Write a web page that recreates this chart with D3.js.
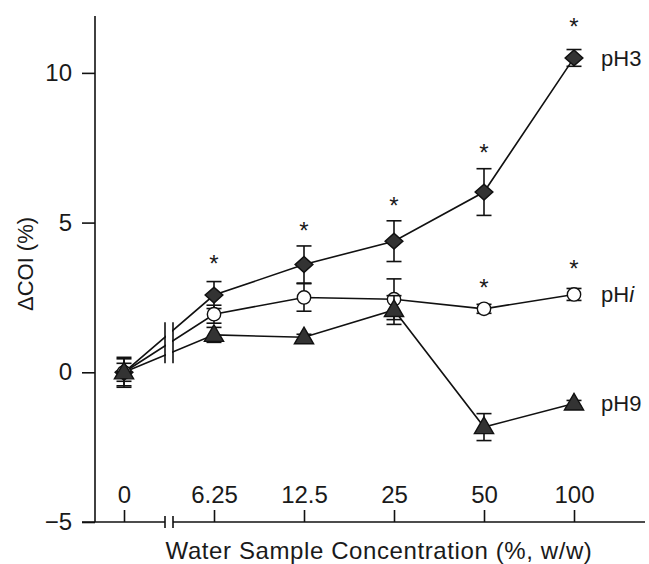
<!DOCTYPE html>
<html>
<head>
<meta charset="utf-8">
<script src="https://cdn.jsdelivr.net/npm/d3@7"></script>
<style>
  body { margin: 0; background: #fff; }
  svg text { font-family: "Liberation Sans", Arial, sans-serif; fill: #1a1a1a; }
</style>
</head>
<body>
<div id="chart"></div>
<script>
'use strict';

// concentrations (% w/w), shown as equally spaced categories
const concentrations = ['0', '6.25', '12.5', '25', '50', '100']
const yTicks = [-5, 0, 5, 10]

// mean ΔCOI (%) and error for each series
const pH3Values = [0, 2.58, 3.6, 4.38, 6.02, 10.5]
const pH3Errors = [0.45, 0.45, 0.62, 0.68, 0.78, 0.28]
const pHiValues = [0, 1.94, 2.5, 2.44, 2.12, 2.6]
const pHiErrors = [0.3, 0.3, 0.46, 0.68, 0.15, 0.2]
const pH9Values = [0, 1.25, 1.17, 2.08, -1.83, -1.04]
const pH9Errors = [0.5, 0.25, 0.1, 0.48, 0.45, 0.1]

// significance asterisks (index of concentration, level in ΔCOI units)
const pH3Stars = [[1, 3.81], [2, 4.92], [3, 5.75], [4, 7.53], [5, 11.74]]
const pHiStars = [[4, 3.01], [5, 3.65]]

const W = 649, H = 564
const margin = {top: 16, left: 95, bottom: 42}
const axisY = H - margin.bottom
const dark = '#333'
const ink  = '#111'
const tickFont = 24

const svg = d3.select('#chart').append('svg')
  .attr('width', W)
  .attr('height', H)

const x = d3.scalePoint()
  .domain(concentrations)
  .range([124, 574])

const y = d3.scaleLinear()
  .domain([-5, 11.9])
  .range([axisY, margin.top])

// ---- y axis
const yAxis = svg.append('g')
  .attr('transform', `translate(${margin.left},0)`)
  .call(d3.axisLeft(y).tickValues(yTicks).tickSize(13).tickPadding(10)
    .tickFormat((d) => d < 0 ? '\u2212' + Math.abs(d) : d))
yAxis.select('.domain').remove()
yAxis.append('line')
  .attr('x1', 0).attr('x2', 0)
  .attr('y1', margin.top).attr('y2', axisY)
  .attr('stroke', ink).attr('stroke-width', 1.6)
yAxis.selectAll('.tick line').attr('stroke', ink).attr('stroke-width', 1.6)
yAxis.selectAll('.tick text')
  .attr('font-size', tickFont)
  .style('font-family', '"Liberation Sans", Arial, sans-serif')
  .attr('fill', '#1a1a1a')

// ---- x axis (inner ticks, with a break after 0)
const breakX = [165, 173]
const xAxis = svg.append('g')
  .attr('transform', `translate(0,${axisY})`)
  .call(d3.axisTop(x).tickSize(12).tickPadding(7))
xAxis.select('.domain').remove()
xAxis.selectAll('.tick line').attr('stroke', ink).attr('stroke-width', 1.6)
xAxis.selectAll('.tick text')
  .attr('font-size', tickFont)
  .style('font-family', '"Liberation Sans", Arial, sans-serif')
  .attr('fill', '#1a1a1a')

const axisSegments = [[margin.left - 13, breakX[0]], [breakX[1], 645]]
xAxis.selectAll('line.seg')
  .data(axisSegments)
  .enter()
  .append('line')
    .attr('class', 'seg')
    .attr('x1', (d) => d[0]).attr('x2', (d) => d[1])
    .attr('y1', 0).attr('y2', 0)
    .attr('stroke', ink).attr('stroke-width', 1.6)
xAxis.selectAll('line.brk')
  .data(breakX)
  .enter()
  .append('line')
    .attr('class', 'brk')
    .attr('x1', (d) => d).attr('x2', (d) => d)
    .attr('y1', -6).attr('y2', 6)
    .attr('stroke', ink).attr('stroke-width', 1.6)

// ---- axis titles
svg.append('text')
  .attr('x', 379)
  .attr('y', 559)
  .attr('text-anchor', 'middle')
  .attr('font-size', tickFont)
  .attr('letter-spacing', 0.6)
  .text('Water Sample Concentration (%, w/w)')

svg.append('text')
  .attr('transform', 'translate(33,264) rotate(-90)')
  .attr('text-anchor', 'middle')
  .attr('font-size', 22)
  .text('\u0394COI (%)')

// ---- series
const series = [
  {name: 'pH3', values: pH3Values, errors: pH3Errors, shape: 'diamond'},
  {name: 'pHi', values: pHiValues, errors: pHiErrors, shape: 'circle'},
  {name: 'pH9', values: pH9Values, errors: pH9Errors, shape: 'triangle'}
]
series.forEach((s) => {
  s.points = s.values.map((v, i) => ({c: concentrations[i], v: v, e: s.errors[i]}))
})

const line = d3.line().x((d) => x(d.c)).y((d) => y(d.v))
const plot = svg.append('g')

plot.selectAll('path.series')
  .data(series)
  .enter()
  .append('path')
    .attr('class', 'series')
    .attr('d', (s) => line(s.points))
    .attr('fill', 'none')
    .attr('stroke', ink)
    .attr('stroke-width', 1.6)

// gap in the lines at the axis break
plot.append('rect')
  .attr('x', breakX[0] + 1)
  .attr('y', y(2.1))
  .attr('width', breakX[1] - breakX[0] - 2)
  .attr('height', y(0.5) - y(2.1))
  .attr('fill', '#fff')
plot.selectAll('line.brk')
  .data(breakX)
  .enter()
  .append('line')
    .attr('class', 'brk')
    .attr('x1', (d) => d).attr('x2', (d) => d)
    .attr('y1', y(1.67)).attr('y2', y(0.3))
    .attr('stroke', ink).attr('stroke-width', 1.6)

const symbols = {
  diamond:  d3.symbol().type(d3.symbolSquare).size(125),
  circle:   d3.symbol().type(d3.symbolCircle).size(140),
  triangle: d3.symbol().type(d3.symbolTriangle).size(160)
}

series.forEach((s) => {
  const g = plot.append('g')
  const bars = g.selectAll('g.err')
    .data(s.points)
    .enter()
    .append('g')
      .attr('class', 'err')
      .attr('stroke', ink)
      .attr('stroke-width', 1.6)
  bars.append('line')
    .attr('x1', (d) => x(d.c)).attr('x2', (d) => x(d.c))
    .attr('y1', (d) => y(d.v - d.e)).attr('y2', (d) => y(d.v + d.e))
  bars.selectAll('line.cap')
    .data((d) => [d.v - d.e, d.v + d.e].map((v) => ({c: d.c, v: v})))
    .enter()
    .append('line')
      .attr('class', 'cap')
      .attr('x1', (d) => x(d.c) - 7.5).attr('x2', (d) => x(d.c) + 7.5)
      .attr('y1', (d) => y(d.v)).attr('y2', (d) => y(d.v))

  g.selectAll('path.mark')
    .data(s.points)
    .enter()
    .append('path')
      .attr('class', 'mark')
      .attr('d', symbols[s.shape])
      .attr('transform', (d) => `translate(${x(d.c)},${y(d.v)})` +
        (s.shape === 'diamond' ? ' scale(1.12,1) rotate(45)' : '') +
        (s.shape === 'triangle' ? ' translate(0,1)' : ''))
      .attr('fill', s.shape === 'circle' ? '#fff' : dark)
      .attr('stroke', ink)
      .attr('stroke-width', 1.4)
})

// ---- asterisks
const stars = pH3Stars.concat(pHiStars)
plot.selectAll('text.star')
  .data(stars)
  .enter()
  .append('text')
    .attr('class', 'star')
    .attr('x', (d) => x(concentrations[d[0]]))
    .attr('y', (d) => y(d[1]) + 14)
    .attr('text-anchor', 'middle')
    .attr('font-size', 24)
    .text('*')

// ---- series labels
const lastIdx = concentrations.length - 1
const labels = plot.selectAll('text.name')
  .data(series)
  .enter()
  .append('text')
    .attr('class', 'name')
    .attr('x', x(concentrations[lastIdx]) + 27)
    .attr('y', (s) => y(s.values[lastIdx]) + 8)
    .attr('font-size', 22)
labels.append('tspan').text('pH')
labels.append('tspan')
  .attr('font-style', (s) => s.name === 'pHi' ? 'italic' : 'normal')
  .text((s) => s.name.slice(2))
</script>
</body>
</html>
